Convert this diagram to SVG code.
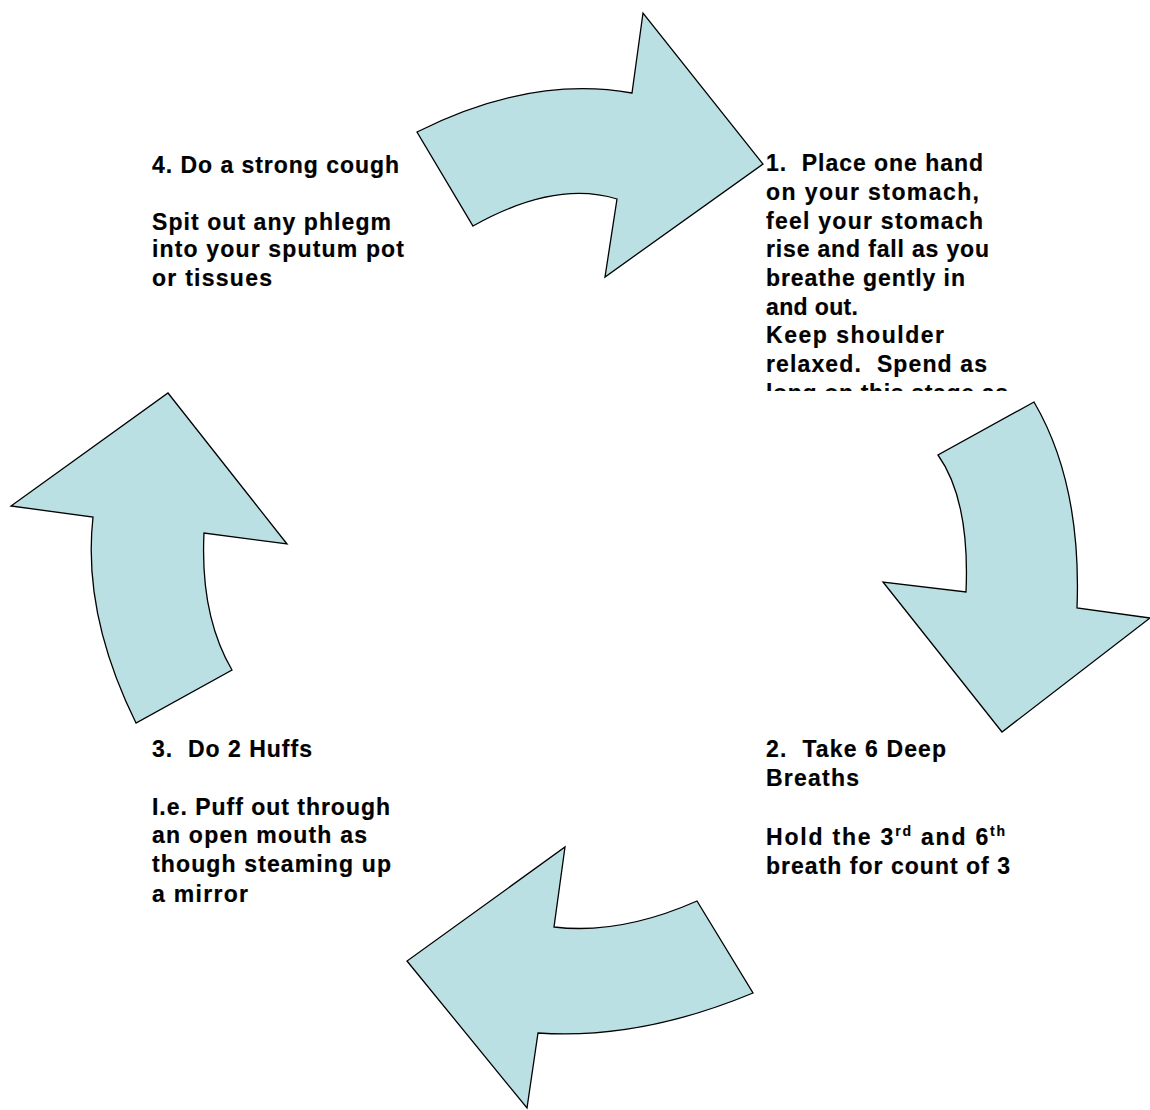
<svg xmlns="http://www.w3.org/2000/svg" width="1150" height="1110" viewBox="0 0 1150 1110">
<style>
.arrow{fill:#BBE0E3;stroke:#000;stroke-width:1.3;stroke-linejoin:miter}
.t{font-family:"Liberation Sans",Arial,sans-serif;font-weight:bold;font-size:23px;fill:#000;stroke:#000;stroke-width:0.2}
.sup{font-size:14px}
</style>
<defs>
<clipPath id="clip1"><rect x="755" y="140" width="300" height="251"/></clipPath>
</defs>
<rect width="1150" height="1110" fill="#fff"/>
<g id="connectors">
<path class="arrow" d="M417,132 Q530,75 632,93 L643,13 L763,164 L605,277 L617,199 Q555,180 473,226 Z"/>
<path class="arrow" d="M1034,402 L938,455 Q970,500 966,592 L883,582 L1002,732 L1150,618 L1077,608 C1080,530 1068,460 1034,402 Z"/>
<path class="arrow" d="M565,847 L554,927 Q620,935 697,901 L753,993 Q640,1040 538,1033 L527,1108 L407,961 Z"/>
<path class="arrow" d="M168,393 L287,544 L204,533 Q200,615 232,670 L136,723 C100,650 86,580 93,517 L11,506 Z"/>
</g>
<g id="step1" clip-path="url(#clip1)">
<text class="t" x="766" y="171" textLength="217" lengthAdjust="spacing">1.&#160; Place one hand</text>
<text class="t" x="766" y="200" textLength="213" lengthAdjust="spacing">on your stomach,</text>
<text class="t" x="766" y="229" textLength="217" lengthAdjust="spacing">feel your stomach</text>
<text class="t" x="766" y="257" textLength="223" lengthAdjust="spacing">rise and fall as you</text>
<text class="t" x="766" y="286" textLength="199" lengthAdjust="spacing">breathe gently in</text>
<text class="t" x="766" y="315" textLength="92" lengthAdjust="spacing">and out.</text>
<text class="t" x="766" y="343" textLength="178" lengthAdjust="spacing">Keep shoulder</text>
<text class="t" x="766" y="372" textLength="221" lengthAdjust="spacing">relaxed.&#160; Spend as</text>
<text class="t" x="766" y="401" textLength="242" lengthAdjust="spacing">long on this stage as</text>
</g>
<g id="step2">
<text class="t" x="766" y="757" textLength="180" lengthAdjust="spacing">2.&#160; Take 6 Deep</text>
<text class="t" x="766" y="786" textLength="93" lengthAdjust="spacing">Breaths</text>
<text class="t" x="766" y="845" letter-spacing="1.8">Hold the 3<tspan class="sup" dy="-9">rd</tspan><tspan dy="9"> and 6</tspan><tspan class="sup" dy="-9">th</tspan></text>
<text class="t" x="766" y="874" textLength="244" lengthAdjust="spacing">breath for count of 3</text>
</g>
<g id="step3">
<text class="t" x="152" y="757" textLength="160" lengthAdjust="spacing">3.&#160; Do 2 Huffs</text>
<text class="t" x="152" y="815" textLength="238" lengthAdjust="spacing">I.e. Puff out through</text>
<text class="t" x="152" y="843" textLength="215" lengthAdjust="spacing">an open mouth as</text>
<text class="t" x="152" y="872" textLength="239" lengthAdjust="spacing">though steaming up</text>
<text class="t" x="152" y="902" textLength="96" lengthAdjust="spacing">a mirror</text>
</g>
<g id="step4">
<text class="t" x="152" y="173" textLength="247" lengthAdjust="spacing">4. Do a strong cough</text>
<text class="t" x="152" y="230" textLength="239" lengthAdjust="spacing">Spit out any phlegm</text>
<text class="t" x="152" y="257" textLength="252" lengthAdjust="spacing">into your sputum pot</text>
<text class="t" x="152" y="286" textLength="120" lengthAdjust="spacing">or tissues</text>
</g>
</svg>
